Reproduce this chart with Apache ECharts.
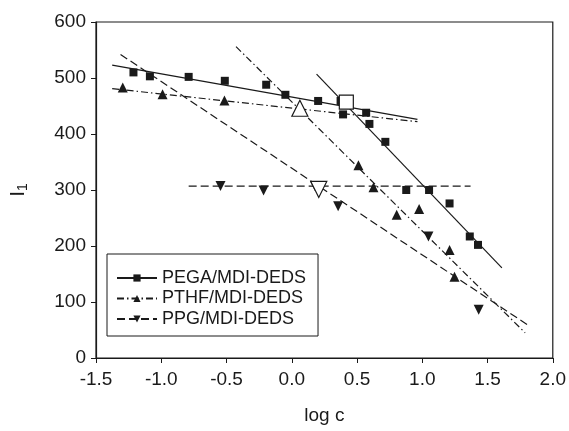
<!DOCTYPE html>
<html>
<head>
<meta charset="utf-8">
<script src="https://cdn.jsdelivr.net/npm/echarts@6/dist/echarts.min.js"></script>
<style>
  html, body { margin: 0; padding: 0; background: #fff; }
  #chart { width: 569px; height: 431px; }
</style>
</head>
<body>
<div id="chart"></div>
<script>
// series names
var names = ['PEGA/MDI-DEDS', 'PTHF/MDI-DEDS', 'PPG/MDI-DEDS'];

// measured points [log c, I1]
var pegaPts = [[-1.213, 510], [-1.087, 503], [-0.79, 502], [-0.513, 495], [-0.196, 488],
  [-0.049, 470], [0.202, 459], [0.374, 459], [0.393, 435], [0.57, 438], [0.595, 418],
  [0.717, 386], [0.877, 300], [1.052, 300], [1.209, 276], [1.364, 217], [1.427, 202]];
var pthfPts = [[-1.295, 483], [-0.99, 471], [-0.516, 460], [0.511, 344], [0.626, 305],
  [0.804, 256], [0.976, 266], [1.209, 193], [1.247, 145]];
var ppgPts = [[-0.546, 307], [-0.216, 299], [0.177, 307], [0.355, 271], [1.047, 217], [1.432, 86]];

// break points (open symbols)
var pegaCmc = [[0.418, 457]];
var pthfCmc = [[0.062, 446]];
var ppgCmc = [[0.207, 301]];

// fitted lines, two segments each
var pegaFit1 = [[-1.376, 523], [0.963, 426]];
var pegaFit2 = [[0.19, 507], [1.61, 161]];
var pthfFit1 = [[-1.376, 481], [0.963, 422]];
var pthfFit2 = [[-0.427, 556], [1.788, 45]];
var ppgFit1 = [[-0.79, 307], [1.37, 307]];
var ppgFit2 = [[-1.312, 542], [1.808, 59]];

var xTicks = { min: -1.5, max: 2.0, step: 0.5 };
var yTicks = { min: 0, max: 600, step: 100 };

var font = "'Liberation Sans', Arial, sans-serif";
var ink = '#1a1a1a';

var dashDot = [7, 3, 1.5, 3];
var dash = [8, 4];

function fitLine(name, data, type, sym, rot) {
  return {
    name: name,
    type: 'line',
    data: data,
    symbol: sym,
    symbolRotate: rot,
    symbolSize: 8,
    showSymbol: false,
    silent: true,
    lineStyle: { color: ink, width: 1.2, type: type },
    itemStyle: { color: ink, opacity: 1 },
    z: 2
  };
}

function pts(name, data, sym, size, rot) {
  return {
    name: name,
    type: 'scatter',
    data: data,
    symbol: sym,
    symbolSize: size,
    symbolRotate: rot,
    itemStyle: { color: ink, opacity: 1 },
    z: 3
  };
}

function open(name, data, sym, size, rot) {
  return {
    name: name,
    type: 'scatter',
    data: data,
    symbol: sym,
    symbolSize: size,
    symbolRotate: rot,
    itemStyle: { color: '#fff', borderColor: ink, borderWidth: 1.2, opacity: 1 },
    z: 4
  };
}

var chart = echarts.init(document.getElementById('chart'));
chart.setOption({
  animation: false,
  backgroundColor: '#fff',
  grid: {
    left: 93, right: 16, top: 22, bottom: 73,
    show: true, borderColor: ink, borderWidth: 1.2, backgroundColor: 'transparent'
  },
  legend: {
    orient: 'vertical',
    left: 107, top: 254,
    data: names,
    backgroundColor: '#fff',
    borderColor: ink,
    borderWidth: 1,
    padding: [15, 12, 8, 9],
    itemWidth: 40,
    itemHeight: 9,
    itemGap: 2.5,
    textStyle: { fontFamily: font, fontSize: 18, color: ink }
  },
  xAxis: {
    type: 'value',
    min: xTicks.min, max: xTicks.max, interval: xTicks.step,
    name: 'log c',
    nameLocation: 'middle',
    nameGap: 48,
    nameTextStyle: { fontFamily: font, fontSize: 19, color: ink },
    axisLine: { onZero: false, lineStyle: { color: ink, width: 1.2 } },
    axisTick: { length: 5, lineStyle: { color: ink } },
    axisLabel: {
      fontFamily: font, fontSize: 19, color: ink, margin: 12,
      formatter: function (v) { return v.toFixed(1); }
    },
    splitLine: { show: false }
  },
  yAxis: {
    type: 'value',
    min: yTicks.min, max: yTicks.max, interval: yTicks.step,
    name: '{a|I}{b|1}',
    nameLocation: 'middle',
    nameGap: 66,
    nameTextStyle: {
      rich: {
        a: { fontFamily: font, fontSize: 21, color: ink },
        b: { fontFamily: font, fontSize: 14, color: ink, padding: [9, 0, 0, 0] }
      }
    },
    axisLine: { onZero: false, lineStyle: { color: ink, width: 1.2 } },
    axisTick: { length: 5, lineStyle: { color: ink } },
    axisLabel: { fontFamily: font, fontSize: 19, color: ink, margin: 10 },
    splitLine: { show: false }
  },
  series: [
    fitLine(names[0], pegaFit1, 'solid', 'rect', 0),
    fitLine(names[0], pegaFit2, 'solid', 'rect', 0),
    fitLine(names[1], pthfFit1, dashDot, 'triangle', 0),
    fitLine(names[1], pthfFit2, dashDot, 'triangle', 0),
    fitLine(names[2], ppgFit1, dash, 'triangle', 180),
    fitLine(names[2], ppgFit2, dash, 'triangle', 180),
    pts(names[0], pegaPts, 'rect', 8, 0),
    pts(names[1], pthfPts, 'triangle', 10, 0),
    pts(names[2], ppgPts, 'triangle', 10, 180),
    open(names[0], pegaCmc, 'rect', 14, 0),
    open(names[1], pthfCmc, 'triangle', 16, 0),
    open(names[2], ppgCmc, 'triangle', 16, 180)
  ]
});
</script>
</body>
</html>
